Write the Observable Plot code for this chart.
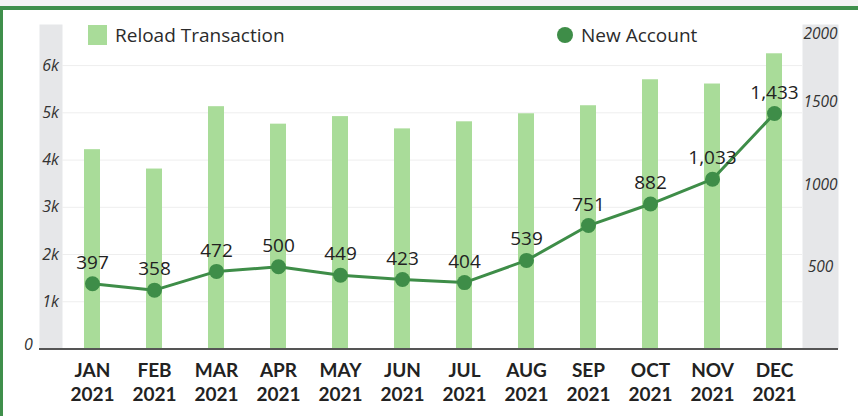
<!DOCTYPE html>
<html><head><meta charset="utf-8">
<script src="https://cdn.jsdelivr.net/npm/d3@7"></script>
<script src="https://cdn.jsdelivr.net/npm/@observablehq/plot@0.6"></script>
<style>
body{margin:0;background:#fff;}
#wrap{position:relative;width:858px;height:416px;overflow:hidden;background:#fff;font-family:"Open Sans",sans-serif;}
#topstrip{position:absolute;left:0;top:0;width:858px;height:6px;background:#f3f3f3;}
#border{position:absolute;left:0;top:6px;width:858px;height:410px;border-top:4px solid #3f8f4b;border-left:3px solid #3f8f4b;box-sizing:border-box;}
#chart{position:absolute;left:0;top:0;}
.lg{position:absolute;display:flex;align-items:center;font-size:19px;color:#2b2b2b;white-space:nowrap;}
.sq{width:19px;height:20px;background:#a9dc99;margin-right:8px;}
.ci{width:16px;height:16px;border-radius:50%;background:#3e8d48;margin-right:8px;}
</style></head>
<body>
<div id="wrap">
  <div id="topstrip"></div>
  <div id="border"></div>
  <div id="chart"></div>
  <div class="lg" style="left:88px;top:24px;height:22px;"><div class="sq"></div><span id="lg1"></span></div>
  <div class="lg" style="left:557px;top:24px;height:22px;"><div class="ci"></div><span id="lg2"></span></div>
</div>
<script>
const months = ["JAN","FEB","MAR","APR","MAY","JUN","JUL","AUG","SEP","OCT","NOV","DEC"];
const year = "2021";
const reloadTransaction = [4220,3810,5130,4760,4920,4660,4810,4980,5150,5700,5610,6250];
const newAccount = [397,358,472,500,449,423,404,539,751,882,1033,1433];
const leftTicks = [1000,2000,3000,4000,5000,6000];
const rightTicks = [500,1000,1500,2000];
const seriesNames = ["Reload Transaction","New Account"];

document.getElementById("lg1").textContent = seriesNames[0];
document.getElementById("lg2").textContent = seriesNames[1];

const yMax = 6870;
const factor = 3.48; // right axis (New Account) to left axis units
const data = months.map((m,i)=>({month:m, label:m+"\n"+year, reload:reloadTransaction[i], acct:newAccount[i], acctY:newAccount[i]*factor}));
const green = "#3e8d48";

const chart = Plot.plot({
  width: 858, height: 416,
  marginLeft: 62, marginRight: 56, marginTop: 24, marginBottom: 67.5,
  x: {type:"band", domain: months, paddingInner: 0.7364, paddingOuter: 0.28, align: 0.536, axis: null},
  y: {domain: [0, yMax], axis: null},
  style: {background: "transparent", fontFamily: "'Open Sans', sans-serif", overflow: "visible"},
  marks: [
    Plot.frame({fill:"#e6e7e9", stroke:"none", insetLeft:-23, insetRight:740}),
    Plot.frame({fill:"#e6e7e9", stroke:"none", insetLeft:740, insetRight:-36}),
    Plot.ruleY(leftTicks, {stroke:"#eeeeee", strokeWidth:1}),
    Plot.barY(data, {x:"month", y:"reload", fill:"#a9dc99"}),
    Plot.ruleY([0], {stroke:"#555555", strokeWidth:2, insetLeft:-23, insetRight:-36}),
    Plot.line(data, {x:"month", y:"acctY", stroke:green, strokeWidth:3}),
    Plot.dot(data, {x:"month", y:"acctY", r:7.5, fill:green}),
    Plot.text(data, {x:"month", y:"acctY", text: d=>d3.format(",")(d.acct), dy:-21, fontSize:19, fill:"#222"}),
    Plot.text(data, {x:"month", text:"label", frameAnchor:"bottom", dy:32.5, lineAnchor:"middle", lineHeight:24/19, fontSize:19, fontWeight:"bold", fontFamily:"Lato, sans-serif", fill:"#222"}),
    Plot.text(leftTicks, {y: d=>d, frameAnchor:"left", dx:-12, text: d=>(d/1000)+"k", fontStyle:"italic", fontSize:16, textAnchor:"middle", fill:"#333"}),
    Plot.text([0], {y: d=>d, frameAnchor:"left", dx:-34, dy:-4.5, text: d=>String(d), fontStyle:"italic", fontSize:16, textAnchor:"middle", fill:"#333"}),
    Plot.text(rightTicks.filter(v=>v*factor<=yMax), {y: d=>d*factor, frameAnchor:"right", dx:18, text: d=>String(d), fontStyle:"italic", fontSize:15.5, textAnchor:"middle", fill:"#333"}),
    Plot.text(rightTicks.filter(v=>v*factor>yMax), {frameAnchor:"top-right", dx:18, dy:3, lineAnchor:"top", text: d=>String(d), fontStyle:"italic", fontSize:15.5, textAnchor:"middle", fill:"#333"})
  ]
});
document.getElementById("chart").appendChild(chart);
</script>
</body></html>
